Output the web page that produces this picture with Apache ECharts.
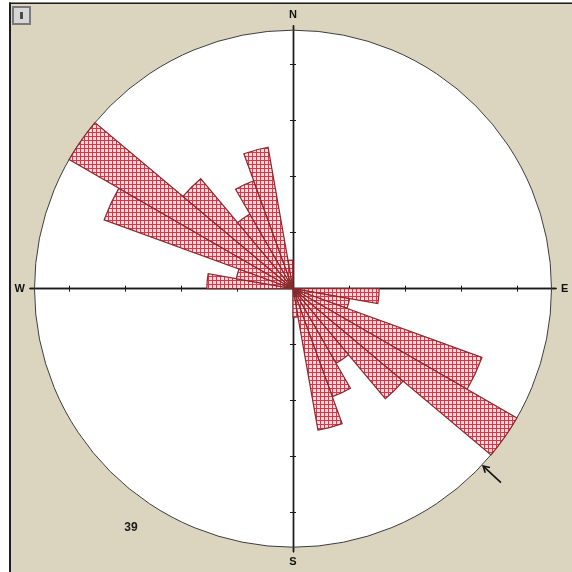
<!DOCTYPE html>
<html>
<head>
<meta charset="utf-8">
<script src="https://cdn.jsdelivr.net/npm/echarts@6/dist/echarts.min.js"></script>
<style>
  html, body { margin: 0; padding: 0; background: #ffffff; }
  #chart { width: 572px; height: 572px; }
</style>
</head>
<body>
<div id="chart"></div>
<script>
// Direction bins (10 degrees each, clockwise from north)
const binLabels = [
  '0', '10', '20', '30', '40', '50', '60', '70', '80',
  '90', '100', '110', '120', '130', '140', '150', '160', '170',
  '180', '190', '200', '210', '220', '230', '240', '250', '260',
  '270', '280', '290', '300', '310', '320', '330', '340', '350'
];

// Number of measurements per bin (axial data, so every measurement
// shows up at both ends of its line)
const counts = [
  0, 0, 0, 0, 0, 0, 0, 0, 0,
  3, 2, 7, 9, 5, 3, 4, 5, 1,
  0, 0, 0, 0, 0, 0, 0, 0, 0,
  3, 2, 7, 9, 5, 3, 4, 5, 1
];

// Ring tick positions on the cross axes, percent of measurements
const ringTicks = [5, 10, 15, 20];

// Compass labels at 0, 90, 180, 270 degrees
const compassLabels = ['N', 'E', 'S', 'W'];

// Mean direction marker (degrees clockwise from north)
const meanBearing = 133;

const nMeasurements = counts.reduce((a, b) => a + b, 0) / 2;
const percents = counts.map(c => c / nMeasurements * 100);
const rMax = Math.max(...counts) / nMeasurements * 100;

const CENTER = [293, 288.7];
const R = 258.5;      // outer circle
const RA = 263;       // cross axes run slightly past the circle

// Red cross-hatch fill for the petals
function hatchPattern() {
  const c = document.createElement('canvas');
  c.width = 4; c.height = 4;
  const g = c.getContext('2d');
  g.fillStyle = '#f9dfe2';
  g.fillRect(0, 0, 4, 4);
  g.fillStyle = '#d23c4a';
  g.fillRect(0, 0, 4, 1);
  g.fillRect(0, 0, 1, 4);
  return c;
}

// Four arms (N, E, S, W); two passes per arm put ticks on both sides
const arms = [];
[90, 0, 270, 180].forEach(dir => {
  arms.push({ dir: dir, side: 1 });
  arms.push({ dir: dir, side: -1 });
});

const labelFont = 'Liberation Sans, Arial, sans-serif';

const chart = echarts.init(document.getElementById('chart'), null, { renderer: 'canvas' });

chart.setOption({
  backgroundColor: '#dbd4be',
  animation: false,
  polar: [{ center: CENTER, radius: R }].concat(
    arms.map(() => ({ center: CENTER, radius: RA }))
  ),
  angleAxis: [{
    polarIndex: 0,
    type: 'category',
    data: binLabels,
    startAngle: 90,
    clockwise: true,
    boundaryGap: true,
    axisLine: { show: true, lineStyle: { color: '#3c3c3c', width: 1 } },
    axisTick: { show: false },
    axisLabel: { show: false },
    splitLine: { show: false },
    splitArea: { show: true, areaStyle: { color: ['#ffffff'] } }
  }].concat(arms.map((a, i) => ({
    polarIndex: i + 1,
    type: 'value',
    min: 0,
    max: 360,
    interval: 90,
    startAngle: a.dir,
    clockwise: true,
    axisLine: { show: false },
    axisTick: { show: false },
    splitLine: { show: false },
    axisLabel: i === 0 ? {
      show: true,
      margin: 5,
      color: '#111111',
      fontSize: 11,
      fontWeight: 'bold',
      fontFamily: labelFont,
      formatter: v => compassLabels[Math.round(v / 90)] || ''
    } : { show: false }
  }))),
  radiusAxis: [{
    polarIndex: 0,
    type: 'value',
    min: 0,
    max: rMax,
    show: false
  }].concat(arms.map((a, i) => ({
    polarIndex: i + 1,
    type: 'value',
    min: 0,
    max: rMax * RA / R,
    axisLine: { show: true, lineStyle: { color: '#1a1a1a', width: 1.4 } },
    axisTick: {
      show: true,
      length: 3 * a.side,
      customValues: ringTicks,
      lineStyle: { color: '#1a1a1a', width: 1 }
    },
    axisLabel: { show: false },
    splitLine: { show: false }
  }))),
  series: [{
    type: 'bar',
    coordinateSystem: 'polar',
    polarIndex: 0,
    data: percents,
    barCategoryGap: '0%',
    silent: true,
    itemStyle: {
      color: { image: hatchPattern(), repeat: 'repeat' },
      borderColor: '#852a2e',
      borderWidth: 1.2
    }
  }, {
    type: 'custom',
    coordinateSystem: 'polar',
    polarIndex: 1,
    silent: true,
    data: [[rMax, meanBearing]],
    renderItem: function (params, api) {
      const ang = api.value(1);
      const tip = api.coord([rMax * 1.006, ang]);
      const tail = api.coord([rMax * 1.1, ang]);
      const dx = tip[0] - tail[0], dy = tip[1] - tail[1];
      const len = Math.hypot(dx, dy);
      const ux = dx / len, uy = dy / len;
      const h = 6, w = 3.5;
      const bx = tip[0] - ux * h, by = tip[1] - uy * h;
      return {
        type: 'group',
        children: [{
          type: 'line',
          shape: { x1: tail[0], y1: tail[1], x2: tip[0], y2: tip[1] },
          style: { stroke: '#111111', lineWidth: 1.6 }
        }, {
          type: 'polyline',
          shape: { points: [[bx - uy * w, by + ux * w], [tip[0], tip[1]], [bx + uy * w, by - ux * w]] },
          style: { stroke: '#111111', lineWidth: 1.6, fill: null }
        }]
      };
    }
  }],
  graphic: [
    // window frame
    { type: 'rect', shape: { x: 0, y: 0, width: 9, height: 572 }, style: { fill: '#ffffff' }, silent: true },
    { type: 'rect', shape: { x: 0, y: 0, width: 572, height: 2.5 }, style: { fill: '#ffffff' }, silent: true },
    { type: 'line', shape: { x1: 10, y1: 2.5, x2: 10, y2: 572 }, style: { stroke: '#1e1e1e', lineWidth: 2 }, silent: true },
    { type: 'line', shape: { x1: 9, y1: 3.2, x2: 572, y2: 3.2 }, style: { stroke: '#1e1e1e', lineWidth: 1.4 }, silent: true },
    // small toolbar icon
    { type: 'rect', shape: { x: 12, y: 6, width: 19, height: 19 }, style: { fill: '#7a7a7a' }, silent: true },
    { type: 'rect', shape: { x: 14, y: 8, width: 15, height: 15 }, style: { fill: '#d6d6d6' }, silent: true },
    { type: 'rect', shape: { x: 20, y: 12, width: 3, height: 7 }, style: { fill: '#4a4a4a' }, silent: true },
    // number of measurements
    {
      type: 'text',
      x: 131, y: 528,
      style: {
        text: String(nMeasurements),
        fill: '#1a1a1a',
        font: 'bold 12px ' + labelFont,
        textAlign: 'center',
        textVerticalAlign: 'middle'
      },
      silent: true
    }
  ]
});
</script>
</body>
</html>
